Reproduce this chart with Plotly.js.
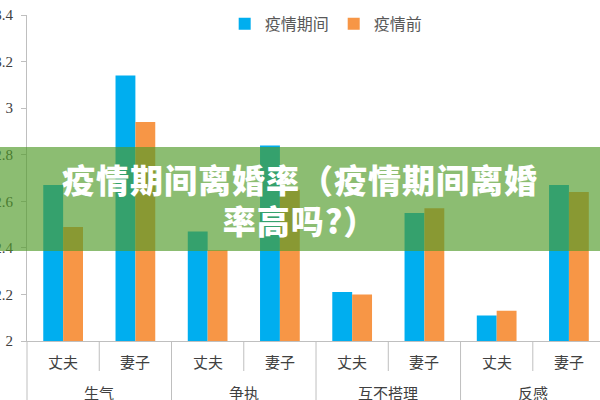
<!DOCTYPE html>
<html>
<head>
<meta charset="utf-8">
<script src="https://cdn.plot.ly/plotly-3.0.1.min.js"></script>
<style>
  html, body { margin: 0; padding: 0; background: #fff; overflow: hidden; }
  #chart { width: 600px; height: 400px; position: relative; }
  #banner {
    position: absolute; left: 0; top: 147px; width: 600px; height: 104px;
    background: rgba(80, 155, 41, 0.66);
    color: #fff; font-family: "Noto Sans CJK SC", sans-serif; font-weight: 900;
    font-size: 33px; line-height: 41px; text-align: center;
    padding-top: 12px; box-sizing: border-box; letter-spacing: 1px;
  }
</style>
</head>
<body>
<div id="chart"></div>
<div id="banner">疫情期间离婚率（疫情期间离婚<br>率高吗?）</div>
<script>
var groups = ['生气', '生气', '争执', '争执', '互不搭理', '互不搭理', '反感', '反感'];
var roles = ['丈夫', '妻子', '丈夫', '妻子', '丈夫', '妻子', '丈夫', '妻子'];
var during = [2.67, 3.14, 2.47, 2.84, 2.21, 2.55, 2.11, 2.67];
var before = [2.49, 2.94, 2.39, 2.65, 2.20, 2.57, 2.13, 2.64];

var labelFont = {family: 'Noto Sans CJK SC, sans-serif', size: 15, color: '#404040'};
var xRange = [-0.5, 7.43];
var plotH = 400 - 15 - 59;
var toPaper = function(v) { return (v - xRange[0]) / (xRange[1] - xRange[0]); };

// separators and labels under the axis (short between roles, long between groups)
var shapes = [];
var annotations = [];
for (var i = 0; i < roles.length; i++) {
    var isGroupStart = (i === 0 || groups[i] !== groups[i - 1]);
    shapes.push({
        type: 'line', xref: 'paper', yref: 'paper',
        x0: toPaper(i - 0.5), x1: toPaper(i - 0.5),
        y0: 0, y1: (isGroupStart ? -60 : -30) / plotH,
        line: {color: '#bfbfbf', width: 1}
    });
    annotations.push({
        xref: 'paper', yref: 'paper', x: toPaper(i), y: -20 / plotH,
        text: roles[i], showarrow: false, xanchor: 'center', yanchor: 'middle',
        font: labelFont
    });
    if (isGroupStart) {
        annotations.push({
            xref: 'paper', yref: 'paper', x: toPaper(i + 0.5), y: -51 / plotH,
            text: groups[i], showarrow: false, xanchor: 'center', yanchor: 'middle',
            font: labelFont
        });
    }
}

var data = [
    {
        type: 'bar',
        name: '疫情期间',
        x: [groups, roles],
        y: during,
        marker: {color: '#00AEEF'},
        hoverinfo: 'y'
    },
    {
        type: 'bar',
        name: '疫情前',
        x: [groups, roles],
        y: before,
        marker: {color: '#F79646'},
        hoverinfo: 'y'
    }
];

var layout = {
    width: 600,
    height: 400,
    margin: {l: 27, r: 0, t: 15, b: 59},
    paper_bgcolor: '#fff',
    plot_bgcolor: '#fff',
    barmode: 'group',
    bargap: 0.45,
    bargroupgap: 0,
    showlegend: true,
    legend: {
        orientation: 'h',
        x: 0.345, y: 1.025,
        xanchor: 'left', yanchor: 'top',
        font: {family: 'Noto Sans CJK SC, sans-serif', size: 16, color: '#595959'},
        tracegroupgap: 0
    },
    shapes: shapes,
    annotations: annotations,
    xaxis: {
        type: 'multicategory',
        range: xRange,
        showline: true,
        linecolor: '#bfbfbf',
        linewidth: 1,
        showticklabels: false,
        showdividers: false,
        ticks: '',
        showgrid: false,
        zeroline: false,
        automargin: false
    },
    yaxis: {
        range: [2, 3.4],
        dtick: 0.2,
        showline: true,
        linecolor: '#bfbfbf',
        linewidth: 1,
        ticks: 'outside',
        ticklen: 5,
        tickcolor: '#bfbfbf',
        ticklabelstandoff: 5,
        tickfont: {family: 'Liberation Serif, serif', size: 15, color: '#404040'},
        showgrid: false,
        zeroline: false,
        automargin: false
    }
};

Plotly.newPlot('chart', data, layout, {displayModeBar: false, staticPlot: true});
</script>
</body>
</html>
